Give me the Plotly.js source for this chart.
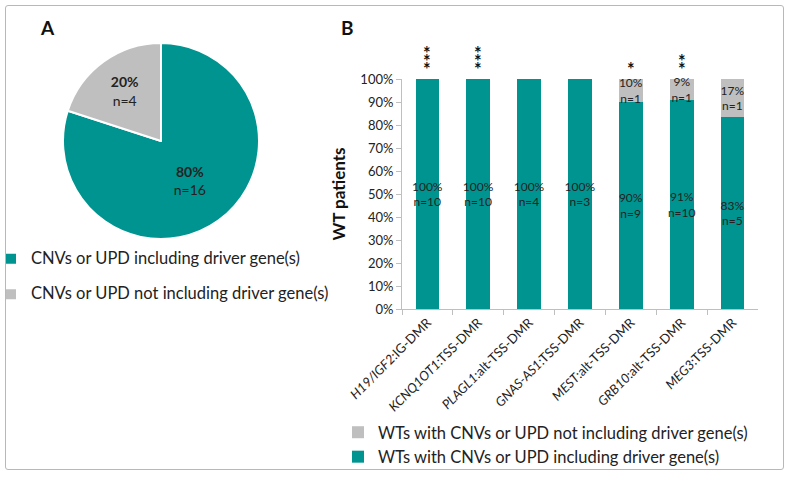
<!DOCTYPE html>
<html>
<head>
<meta charset="utf-8">
<script src="https://cdn.plot.ly/plotly-3.0.1.min.js"></script>
<style>
  body { margin: 0; background: #fff; }
  #wrap { position: relative; width: 789px; height: 479px; }
  #chart { width: 789px; height: 479px; }
  #frame { position: absolute; left: 5px; top: 5px; width: 777px; height: 463px;
           border: 1.5px solid #b8b8b8; border-radius: 3px; pointer-events: none; }
</style>
</head>
<body>
<div id="wrap">
  <div id="chart"></div>
  <div id="frame"></div>
</div>
<script>
  // ---- data ----
  const pieLabels = ['CNVs or UPD including driver gene(s)', 'CNVs or UPD not including driver gene(s)'];
  const pieCounts = [16, 4];

  const genes   = ['H19/IGF2', 'KCNQ1OT1', 'PLAGL1', 'GNAS-AS1', 'MEST', 'GRB10', 'MEG3'];
  const regions = [':IG-DMR', ':TSS-DMR', ':alt-TSS-DMR', ':TSS-DMR', ':alt-TSS-DMR', ':alt-TSS-DMR', ':TSS-DMR'];
  const nIncluding    = [10, 10, 4, 3, 9, 10, 5];
  const nNotIncluding = [0, 0, 0, 0, 1, 1, 1];
  const stars = ['***', '***', '', '', '*', '**', ''];

  const barNames = ['WTs with CNVs or UPD including driver gene(s)', 'WTs with CNVs or UPD not including driver gene(s)'];

  const TEAL = '#009490';
  const GREY = '#bfbfbf';
  const FONT = 'Lato, "Open Sans", sans-serif';
  const W = 789, H = 479;
  const px = x => x / W;
  const py = y => 1 - y / H;

  // ---- derived ----
  const cats = genes.map((g, i) => '<i>' + g + '</i>' + regions[i]);
  const totals = nIncluding.map((n, i) => n + nNotIncluding[i]);
  const label = (n, i) => n > 0 ? Math.round(100 * n / totals[i]) + '%<br>n=' + n : '';
  // pie legend rows are spaced wider in the original: pad each entry with an empty line
  const pieLegendText = pieLabels.map(l => '<span style="font-size:16.5px">' + l + '</span><br> ');

  const pie = {
    type: 'pie',
    labels: pieLegendText,
    values: pieCounts,
    sort: false,
    direction: 'clockwise',
    rotation: 0,
    marker: { colors: [TEAL, GREY], line: { color: '#fff', width: 2 } },
    texttemplate: '<b>%{percent:.0%}</b><br>n=%{value}',
    textposition: 'inside',
    insidetextorientation: 'horizontal',
    textfont: { size: 14, color: '#222', family: FONT },
    domain: { x: [px(63), px(259)], y: [py(239), py(43)] },
    legend: 'legend',
    hoverinfo: 'value'
  };

  const barIncl = {
    type: 'bar',
    name: barNames[0],
    x: cats,
    y: nIncluding,
    text: nIncluding.map(label),
    marker: { color: TEAL },
    legend: 'legend2',
    legendrank: 2
  };
  const barNot = {
    type: 'bar',
    name: barNames[1],
    x: cats,
    y: nNotIncluding,
    text: nNotIncluding.map(label),
    marker: { color: GREY },
    legend: 'legend2',
    legendrank: 1
  };
  [barIncl, barNot].forEach(t => Object.assign(t, {
    textposition: 'inside',
    insidetextanchor: 'middle',
    textangle: 0,
    constraintext: 'none',
    cliponaxis: false,
    textfont: { size: 12, color: '#222', family: FONT }
  }));

  const annotations = [
    { text: '<b>A</b>', x: px(47), y: py(28) },
    { text: '<b>B</b>', x: px(347), y: py(28) }
  ].map(a => Object.assign(a, {
    xref: 'paper', yref: 'paper', showarrow: false, xanchor: 'center', yanchor: 'middle',
    font: { size: 19, color: '#111', family: FONT }
  }));

  // significance stars: one stacked column per bar, tight line spacing
  // (base font is tiny so the line step is ~8px, the star itself is drawn larger)
  stars.forEach((s, i) => {
    if (!s) return;
    const lines = s.split('').map(() => '<span style="font-size:18px"><b>*</b></span>');
    annotations.push({
      x: cats[i], y: 1, xref: 'x', yref: 'y', text: lines.join('<br>'), showarrow: false,
      xanchor: 'center', yanchor: 'bottom', yshift: -3,
      font: { size: 6.2, color: '#111', family: FONT }
    });
  });

  const layout = {
    width: W, height: H,
    margin: { l: 0, r: 0, t: 0, b: 0 },
    paper_bgcolor: '#fff', plot_bgcolor: '#fff',
    font: { family: FONT, color: '#222' },
    barmode: 'stack',
    barnorm: 'fraction',
    bargap: 0.535,
    xaxis: {
      domain: [px(402), px(758)],
      tickangle: -45,
      tickson: 'boundaries',
      ticks: 'outside', ticklen: 5, tickcolor: '#bfbfbf',
      showline: true, linecolor: '#bfbfbf', linewidth: 1,
      showgrid: false, zeroline: false,
      tickfont: { size: 13, color: '#222' },
      automargin: false
    },
    yaxis: {
      domain: [py(309), py(79)],
      range: [0, 1],
      dtick: 0.1,
      tickformat: '.0%',
      ticks: 'outside', ticklen: 5, tickcolor: '#bfbfbf',
      showline: true, linecolor: '#bfbfbf', linewidth: 1,
      showgrid: false, zeroline: false,
      tickfont: { size: 13, color: '#222' },
      title: { text: '<b>WT patients</b>', font: { size: 17, color: '#111' }, standoff: 10 },
      automargin: false
    },
    legend: {
      x: 0, y: py(244), xanchor: 'left', yanchor: 'top',
      indentation: -9,
      font: { size: 12.5, color: '#222' },
      valign: 'top',
      bgcolor: 'rgba(0,0,0,0)'
    },
    legend2: {
      x: px(338), y: py(415), xanchor: 'left', yanchor: 'top',
      font: { size: 16.5, color: '#222' },
      traceorder: 'normal',
      tracegroupgap: 2,
      bgcolor: 'rgba(0,0,0,0)'
    },
    annotations: annotations,
    showlegend: true
  };

  Plotly.newPlot('chart', [pie, barIncl, barNot], layout, { displayModeBar: false, staticPlot: true });
</script>
</body>
</html>
